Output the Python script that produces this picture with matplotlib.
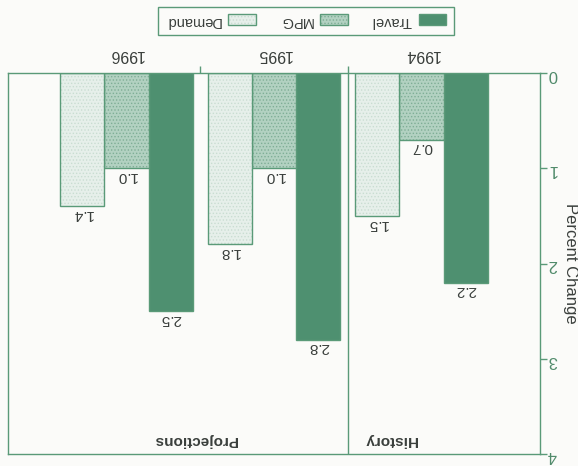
import matplotlib.pyplot as plt
import numpy as np
from matplotlib.patches import Patch

plt.rcParams['font.family'] = ['Liberation Sans', 'DejaVu Sans']
plt.rcParams['hatch.linewidth'] = 0.6

years = ['1994', '1995', '1996']
series = ['Travel', 'MPG', 'Demand']
travel = [2.2, 2.8, 2.5]
mpg = [0.7, 1.0, 1.0]
demand = [1.5, 1.8, 1.4]
yticks = [0, 1, 2, 3, 4]

green = '#5a9a78'
dark = '#3a3f3c'
bg = '#fbfbf9'

# face colour, hatch pattern, hatch colour for each series
styles = {
    'Travel': ('#4e9070', None, '#4e9070'),
    'MPG': ('#b2d1c1', '.....', '#7fae96'),
    'Demand': ('#e6efea', '.....', '#c9ddd2'),
}

fig = plt.figure(figsize=(5.78, 4.66), dpi=100, facecolor=bg)
ax = fig.add_axes([8 / 578, 1 - 454 / 466, 532 / 578, 381 / 466], facecolor=bg)

x = np.arange(len(years))
width = 0.3
offsets = [-0.3, 0.0, 0.3]
handles = []
for name, vals, off in zip(series, [travel, mpg, demand], offsets):
    face, hatch, hcol = styles[name]
    ax.bar(x + off, vals, width, color=face, hatch=hatch, edgecolor=hcol, linewidth=0)
    ax.bar(x + off, vals, width, fill=False, edgecolor=green, linewidth=1.0)
    for xi, v in zip(x + off, vals):
        ax.annotate(f'{v:.1f}', (xi, v), xytext=(0, -5.5), textcoords='offset points',
                    ha='center', va='center', rotation=180, fontsize=11, color=dark)
    p1 = Patch(facecolor=face, hatch=hatch, edgecolor=hcol, linewidth=0)
    p2 = Patch(fill=False, edgecolor=green, linewidth=1.0)
    handles.append((p1, p2))

# whole chart is drawn turned over
ax.set_xlim(2.803, -0.803)
ax.set_ylim(4, 0)
ax.axvline(0.5, color=green, linewidth=1.0)

for s in ax.spines.values():
    s.set_color(green)
    s.set_linewidth(1.0)

ax.yaxis.tick_right()
ax.set_yticks(yticks)
ax.tick_params(axis='y', direction='out', length=5, width=1, color=green,
               labelcolor='#4f8a6a', labelsize=12, labelrotation=180, pad=0.5)
ax.yaxis.set_label_position('right')
ax.set_ylabel('Percent Change', rotation=270, fontsize=12, color=dark, labelpad=15)

ax.xaxis.tick_top()
ax.set_xticks(x)
ax.set_xticklabels(years)
ax.set_xticks([0.5, 1.5], minor=True)
ax.tick_params(axis='x', which='major', length=0, labelsize=11.5, labelcolor=dark,
               labelrotation=180, pad=8)
ax.tick_params(axis='x', which='minor', length=5, width=1, color=green)

ax.text(0.21, 3.85, 'History', rotation=180, ha='center', va='center',
        fontsize=11, fontweight='bold', color=dark)
ax.text(1.536, 3.85, 'Projections', rotation=180, ha='center', va='center',
        fontsize=11, fontweight='bold', color=dark)

leg = fig.legend(handles[::-1], series[::-1], ncol=3, markerfirst=False,
                 loc='center', bbox_to_anchor=(0.529, 0.955), fontsize=10.5,
                 fancybox=False, edgecolor=green, facecolor=bg, framealpha=1,
                 handlelength=1.9, handleheight=0.8, columnspacing=1.6,
                 handletextpad=0.5, borderpad=0.5)
leg.get_frame().set_linewidth(1.0)
for t in leg.get_texts():
    t.set_rotation(180)
    t.set_color(dark)

plt.savefig('out.png', dpi=100, facecolor=bg)
